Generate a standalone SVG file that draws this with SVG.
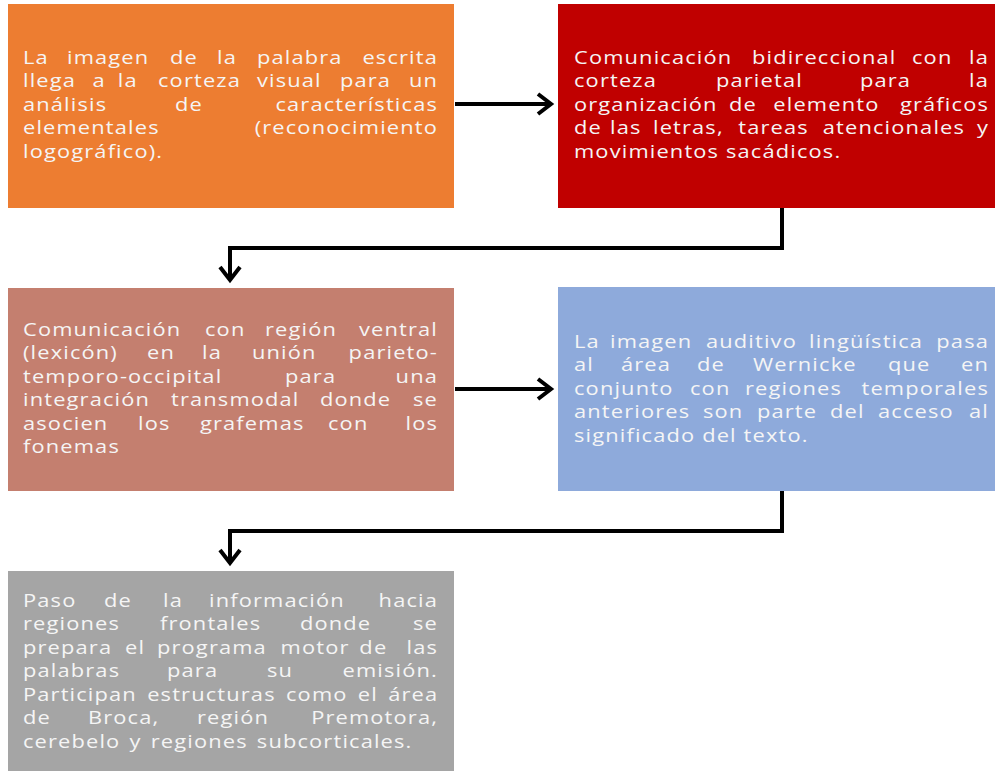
<svg xmlns="http://www.w3.org/2000/svg" width="995" height="771" viewBox="0 0 995 771">
<defs>
<style>
.t{font-family:"Open Sans","Noto Sans",sans-serif;font-size:19px;letter-spacing:1px;fill:#f5f5f5}
.e{text-anchor:end}
.c{fill:none;stroke:#000;stroke-width:4}
.h{fill:none;stroke:#000;stroke-width:4;stroke-linejoin:miter}
</style>
</defs>
<rect width="995" height="771" fill="#fff"/>
<g id="n1">
<rect x="8" y="4" width="446" height="204" fill="#ED7D31"/>
<g transform="scale(1.15,1)">
<text class="t" y="64"><tspan x="20">La</tspan><tspan x="58.26">imagen</tspan><tspan x="147.83">de</tspan><tspan x="188.7">la</tspan><tspan x="223.48">palabra</tspan></text><text class="t e" x="380.87" y="64">escrita</text>
<text class="t" y="87.5"><tspan x="20">llega</tspan><tspan x="80.5">a</tspan><tspan x="102.5">la</tspan><tspan x="137.39">corteza</tspan><tspan x="223.48">visual</tspan><tspan x="295.65">para</tspan></text><text class="t e" x="380.87" y="87.5">un</text>
<text class="t" y="111"><tspan x="20">análisis</tspan><tspan x="152.17">de</tspan></text><text class="t e" x="380.87" y="111">características</text>
<text class="t" y="134.5"><tspan x="20">elementales</tspan></text><text class="t e" x="380.87" y="134.5">(reconocimiento</text>
<text class="t" x="20" y="158">logográfico).</text>
</g>
</g>
<g id="n2">
<rect x="558" y="4" width="437" height="204" fill="#C00000"/>
<g transform="scale(1.15,1)">
<text class="t" y="64"><tspan x="499.13">Comunicación</tspan><tspan x="653.91">bidireccional</tspan><tspan x="793.04">con</tspan></text><text class="t e" x="860" y="64">la</text>
<text class="t" y="87.5"><tspan x="499.13">corteza</tspan><tspan x="622.61">parietal</tspan><tspan x="747.83">para</tspan></text><text class="t e" x="860" y="87.5">la</text>
<text class="t" y="111"><tspan x="499.13">organización</tspan><tspan x="634">de</tspan><tspan x="672.5">elemento</tspan></text><text class="t e" x="860" y="111">gráficos</text>
<text class="t" y="134.5"><tspan x="499.13">de</tspan><tspan x="530.43">las</tspan><tspan x="567.83">letras,</tspan><tspan x="642">tareas</tspan><tspan x="715.5">atencionales</tspan></text><text class="t e" x="860" y="134.5">y</text>
<text class="t" x="499.13" y="158">movimientos sacádicos.</text>
</g>
</g>
<g id="n3">
<rect x="8" y="288" width="446" height="203" fill="#C47F6F"/>
<g transform="scale(1.15,1)">
<text class="t" y="336"><tspan x="20">Comunicación</tspan><tspan x="178.26">con</tspan><tspan x="230.43">región</tspan></text><text class="t e" x="380.87" y="336">ventral</text>
<text class="t" y="359.5"><tspan x="20">(lexicón)</tspan><tspan x="127.83">en</tspan><tspan x="175.65">la</tspan><tspan x="219.13">unión</tspan></text><text class="t e" x="380.87" y="359.5">parieto-</text>
<text class="t" y="383"><tspan x="20">temporo-occipital</tspan><tspan x="247.83">para</tspan></text><text class="t e" x="380.87" y="383">una</text>
<text class="t" y="406.5"><tspan x="20">integración</tspan><tspan x="148.7">transmodal</tspan><tspan x="278.26">donde</tspan></text><text class="t e" x="380.87" y="406.5">se</text>
<text class="t" y="430"><tspan x="20">asocien</tspan><tspan x="120">los</tspan><tspan x="173.91">grafemas</tspan><tspan x="285.22">con</tspan></text><text class="t e" x="380.87" y="430">los</text>
<text class="t" x="20" y="453.5">fonemas</text>
</g>
</g>
<g id="n4">
<rect x="558" y="287" width="437" height="204" fill="#8EAADB"/>
<g transform="scale(1.15,1)">
<text class="t" y="348"><tspan x="499.13">La</tspan><tspan x="530.43">imagen</tspan><tspan x="613.91">auditivo</tspan><tspan x="703.48">lingüística</tspan></text><text class="t e" x="860" y="348">pasa</text>
<text class="t" y="371.5"><tspan x="499.13">al</tspan><tspan x="540">área</tspan><tspan x="606.09">de</tspan><tspan x="654.78">Wernicke</tspan><tspan x="772.17">que</tspan></text><text class="t e" x="860" y="371.5">en</text>
<text class="t" y="395"><tspan x="499.13">conjunto</tspan><tspan x="600">con</tspan><tspan x="647.83">regiones</tspan></text><text class="t e" x="860" y="395">temporales</text>
<text class="t" y="418.5"><tspan x="499.13">anteriores</tspan><tspan x="611.3">son</tspan><tspan x="658.26">parte</tspan><tspan x="721.74">del</tspan><tspan x="763.48">acceso</tspan></text><text class="t e" x="860" y="418.5">al</text>
<text class="t" x="499.13" y="442">significado del texto.</text>
</g>
</g>
<g id="n5">
<rect x="8" y="571" width="446" height="200" fill="#A5A5A5"/>
<g transform="scale(1.15,1)">
<text class="t" y="607"><tspan x="20">Paso</tspan><tspan x="90.43">de</tspan><tspan x="141.74">la</tspan><tspan x="181.74">información</tspan></text><text class="t e" x="380.87" y="607">hacia</text>
<text class="t" y="630.5"><tspan x="20">regiones</tspan><tspan x="139.13">frontales</tspan><tspan x="260.87">donde</tspan></text><text class="t e" x="380.87" y="630.5">se</text>
<text class="t" y="654"><tspan x="20">prepara</tspan><tspan x="108.7">el</tspan><tspan x="136.52">programa</tspan><tspan x="244">motor</tspan><tspan x="312.5">de</tspan></text><text class="t e" x="380.87" y="654">las</text>
<text class="t" y="677.5"><tspan x="20">palabras</tspan><tspan x="145.22">para</tspan><tspan x="232.17">su</tspan></text><text class="t e" x="380.87" y="677.5">emisión.</text>
<text class="t" x="20" y="701" word-spacing="3">Participan estructuras como el área</text>
<text class="t" y="724.5"><tspan x="20">de</tspan><tspan x="76.52">Broca,</tspan><tspan x="171.3">región</tspan></text><text class="t e" x="380.87" y="724.5">Premotora,</text>
<text class="t" x="20" y="748" word-spacing="2">cerebelo y regiones subcorticales.</text>
</g>
</g>
<g id="connectors">
<path class="c" d="M455,104 H550"/>
<path class="h" d="M538,94 L551,104 L538,114"/>
<path class="c" d="M782,208 V248 H230 V279"/>
<path class="h" d="M220,267 L230,280 L240,267"/>
<path class="c" d="M455,389 H550"/>
<path class="h" d="M538,379 L551,389 L538,399"/>
<path class="c" d="M782,491 V531 H230 V562"/>
<path class="h" d="M220,550 L230,563 L240,550"/>
</g>
</svg>
